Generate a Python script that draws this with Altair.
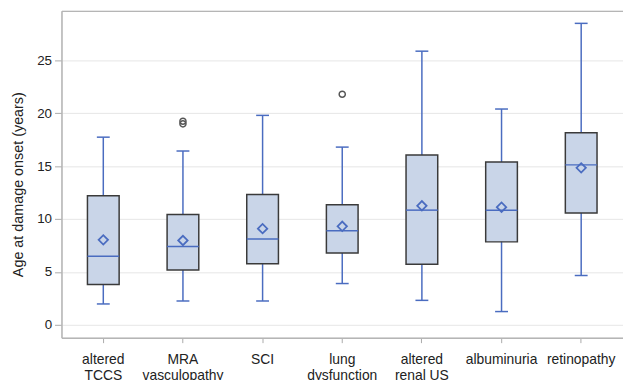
import altair as alt
import pandas as pd

categories = ["altered\nTCCS", "MRA\nvasculopathy", "SCI", "lung\ndysfunction",
              "altered\nrenal US", "albuminuria", "retinopathy"]
lower = [1.97, 2.25, 2.25, 3.9, 2.31, 1.25, 4.66]
q1 = [3.81, 5.18, 5.78, 6.78, 5.72, 7.84, 10.56]
median = [6.47, 7.40, 8.12, 8.9, 10.84, 10.84, 15.12]
q3 = [12.19, 10.43, 12.31, 11.34, 16.06, 15.4, 18.15]
upper = [17.74, 16.43, 19.8, 16.8, 25.87, 20.4, 28.5]
mean = [8.03, 7.97, 9.09, 9.31, 11.25, 11.12, 14.84]

outlier_cat = ["MRA\nvasculopathy", "MRA\nvasculopathy", "lung\ndysfunction"]
outlier_val = [19.0, 19.25, 21.8]

stats = pd.DataFrame({"cat": categories, "lower": lower, "q1": q1, "median": median,
                      "q3": q3, "upper": upper, "mean": mean})
outl = pd.DataFrame({"cat": outlier_cat, "val": outlier_val})

BLUE = "#4a6cc0"
FONT = "Liberation Sans"

xscale = alt.Scale(domain=categories, paddingInner=0.602, paddingOuter=0.326)
yscale = alt.Scale(domain=[-1.22, 29.68], nice=False, zero=False)

xax = alt.Axis(title=None, labelExpr="split(datum.label, '\\n')", labelFont=FONT,
               labelFontSize=14, labelLineHeight=16, labelColor="#222", labelAngle=0,
               tickSize=5, tickColor="#aaa", labelPadding=10, domainColor="#b5b5b5",
               domainWidth=1.5, grid=False, orient="bottom")
yax = alt.Axis(title="Age at damage onset (years)", values=[0, 5, 10, 15, 20, 25],
               labelFont=FONT, labelFontSize=13.5, labelColor="#222", tickSize=7,
               tickColor="#aaa", labelPadding=3, domainColor="#b5b5b5", domainWidth=1.5,
               gridColor="#e6e6e6", gridWidth=1, titleFont=FONT, titleFontSize=14.5,
               titleFontWeight="normal", titleColor="#222", titleX=-43, titleY=175,
               titleAlign="center", titleBaseline="middle", titleAngle=-90)

base = alt.Chart(stats)


def xn():
    return alt.X("cat:N", sort=categories, axis=None)


whisk = base.mark_rule(color=BLUE, strokeWidth=1.5).encode(
    x=alt.X("cat:N", scale=xscale, axis=xax, sort=categories),
    y=alt.Y("lower:Q", scale=yscale, axis=yax), y2="upper:Q")
box = base.mark_bar(size=32, fill="#c9d5e8", stroke="#3a3a3a", strokeWidth=1.5).encode(
    x=xn(), y="q1:Q", y2="q3:Q")
med = base.mark_tick(size=32, thickness=1.5, color=BLUE, opacity=1).encode(
    x=xn(), y="median:Q")
capl = base.mark_tick(size=13, thickness=1.5, color=BLUE, opacity=1).encode(
    x=xn(), y="lower:Q")
capu = base.mark_tick(size=13, thickness=1.5, color=BLUE, opacity=1).encode(
    x=xn(), y="upper:Q")
mn = base.mark_point(shape="diamond", filled=False, size=90, stroke=BLUE, strokeWidth=1.8,
                     opacity=1).encode(x=xn(), y="mean:Q")
out = alt.Chart(outl).mark_point(shape="circle", filled=False, size=38, stroke="#555",
                                 strokeWidth=1.5, opacity=1).encode(
    x=xn(), y="val:Q")

topax = base.mark_rule(opacity=0).encode(
    x=alt.X("cat:N", sort=categories,
            axis=alt.Axis(orient="top", title=None, labels=False, ticks=False,
                          domainColor="#b5b5b5", domainWidth=1.5, grid=False)),
    y="median:Q")

chart = alt.layer(whisk, box, med, capl, capu, mn, out, topax).resolve_axis(
    x="independent").properties(
    width=567, height=330,
    autosize=alt.AutoSizeParams(type="none"),
    padding={"left": 54, "top": 1, "right": 0, "bottom": 60},
).configure_view(stroke=None).configure(background="white")

chart.save("out.html", embed_options={"renderer": "svg", "actions": False})
